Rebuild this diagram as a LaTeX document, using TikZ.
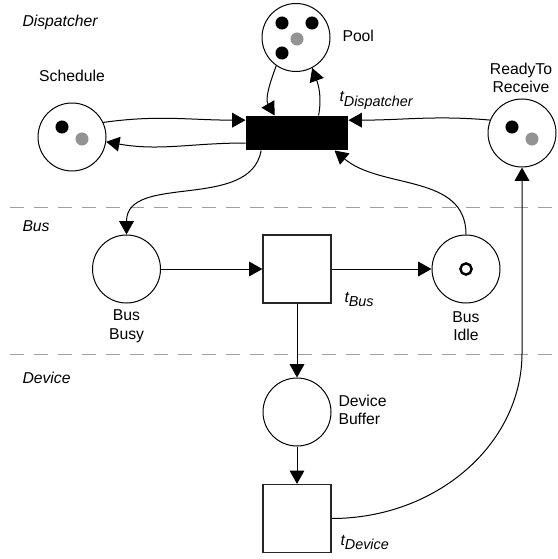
\documentclass[tikz,border=0pt]{standalone}
\usepackage{fontspec}
\setmainfont{Liberation Sans}
\usetikzlibrary{arrows.meta}

\tikzset{
  place/.style={circle, draw, line width=0.75pt, minimum size=51pt, inner sep=0pt},
  trans/.style={rectangle, draw=black!85, line width=0.9pt, fill=white,
    minimum width=51pt, minimum height=51pt, inner sep=0pt},
  firing/.style={rectangle, fill=black, minimum width=76.5pt, minimum height=25.5pt, inner sep=0pt},
  lbl/.style={font=\fontsize{11.8}{14}\selectfont, inner sep=0pt, align=center},
  lane/.style={font=\fontsize{11.8}{14}\selectfont\itshape, inner sep=0pt, anchor=west},
  sep/.style={draw=gray!75, dash pattern=on 10.5pt off 7.5pt, line width=0.75pt},
  token/.style={fill=black},
  greytoken/.style={fill=gray!85},
}

\begin{document}
\begin{tikzpicture}[x=0.75pt, y=-0.75pt, line width=0.75pt,
    >={Triangle[length=10pt,width=11pt]}]
    \useasboundingbox (0,0) rectangle (557,559);

    % Lane separators and lane names
    \draw[sep] (10,208) -- (557,208);
    \draw[sep] (10,354) -- (557,354);
    \node[lane] (dispatcher) at (22,22) {Dispatcher};
    \node[lane] (bus) at (22,226) {Bus};
    \node[lane] (device) at (22,378) {Device};

    % Dispatcher row
    \node[place] (sched) at (72,137) {};
    \node[place] (pool) at (296,37.5) {};
    \node[firing] (disp) at (297,133) {};
    \node[place] (rtr) at (522,133) {};

    % Bus row
    \node[place] (bb) at (126.5,269) {};
    \node[trans] (tbus) at (297,269) {};
    \node[place] (bi) at (466,269) {};

    % Device row
    \node[place] (db) at (297,412) {};
    \node[trans] (tdev) at (297,518.5) {};
    \coordinate (bend) at (522,353);

    % Tokens
    \fill[token] (62,127) circle (4.9pt);
    \fill[greytoken] (82,139) circle (4.9pt);
    \fill[token] (282,23) circle (4.9pt);
    \fill[token] (312,23) circle (4.9pt);
    \fill[token] (282,53) circle (4.9pt);
    \fill[greytoken] (297,39) circle (4.9pt);
    \fill[token] (512,127) circle (4.9pt);
    \fill[greytoken] (532,139) circle (4.9pt);
    \draw[line width=1.8pt] (bi) circle (4.2pt);

    % Labels
    \node[lbl] (schedlbl) at (72,76) {Schedule};
    \node[lbl, anchor=west] (poollbl) at (342,36) {Pool};
    \node[lbl] (rtrlbl) at (521,78) {ReadyTo\\Receive};
    \node[lbl, anchor=base west] (displbl) at (339,102)
      {\itshape t\raisebox{-3.5pt}{\fontsize{10.8}{12}\selectfont Dispatcher}};
    \node[lbl] (bblbl) at (126.5,326) {Bus\\Busy};
    \node[lbl, anchor=base west] (tbuslbl) at (344,302)
      {\itshape t\raisebox{-3.5pt}{\fontsize{10.8}{12}\selectfont Bus}};
    \node[lbl] (bilbl) at (466,326) {Bus\\Idle};
    \node[lbl, anchor=west, align=left] (dblbl) at (338,410) {Device\\Buffer};
    \node[lbl, anchor=base west] (tdevlbl) at (340,545)
      {\itshape t\raisebox{-3.5pt}{\fontsize{10.8}{12}\selectfont Device}};

    % Arcs of the dispatcher
    \draw[->] (sched.25) to[out=8, in=180] (disp.166);
    \draw[->] (disp.191) to[out=180, in=-10] (sched.-8);
    \draw[->] (pool.235) to[out=250, in=120] (disp.142);
    \draw[->] (disp.39) to[out=80, in=-70] (pool.-62);
    \draw[->] (rtr.158) to[out=175, in=0] (disp.14);

    % Arcs of the bus
    \draw[->] (disp.206) to[out=-100, in=90] (bb.north);
    \draw[->] (bi.north) to[out=90, in=-40] (disp.-25);
    \draw[->] (bb) -- (tbus);
    \draw[->] (tbus) -- (bi);

    % Arcs of the device
    \draw[->] (tbus) -- (db);
    \draw[->] (db) -- (tdev);
    \draw[->] (tdev.east) .. controls +(105,0) and +(0,91) .. (bend) -- (rtr.south);
\end{tikzpicture}
\end{document}
